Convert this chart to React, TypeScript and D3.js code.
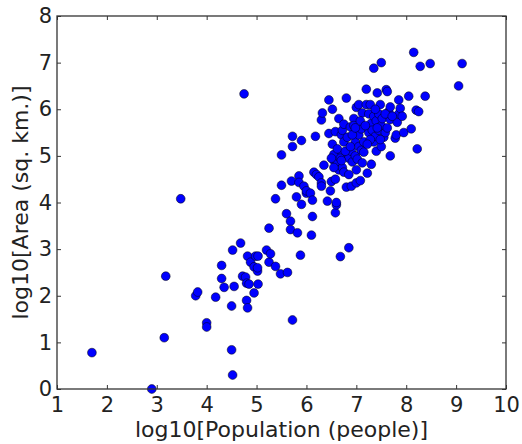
import React, { useEffect, useRef } from 'react';
import * as d3 from 'd3';

// log10 population (x) and log10 area (y)
const popLog = [
  1.7, 2.9, 3.15, 3.18, 3.48, 3.78, 3.82, 4.0, 4.0, 4.18, 4.3, 4.3, 4.35, 4.5, 4.5, 4.52, 4.52, 4.55,
  4.68, 4.72, 4.75, 4.78, 4.8, 4.8, 4.82, 4.82, 4.85, 4.88, 4.95, 4.95, 4.98, 5.02, 5.02, 5.03, 5.03,
  5.2, 5.25, 5.25, 5.28, 5.38, 5.38, 5.48, 5.5, 5.5, 5.6, 5.62, 5.68, 5.68, 5.7, 5.72, 5.72, 5.72,
  5.8, 5.82, 5.85, 5.85, 5.88, 5.9, 5.9, 5.95, 6.0, 6.0, 6.08, 6.12, 6.12, 6.1, 6.15, 6.18, 6.2, 6.25,
  6.3, 6.3, 6.3, 6.32, 6.35, 6.45, 6.45, 6.42, 6.48, 6.5, 6.52, 6.52, 6.55, 6.55, 6.58, 6.58, 6.58,
  6.6, 6.6, 6.62, 6.65, 6.65, 6.68, 6.7, 6.72, 6.72, 6.72, 6.75, 6.75, 6.75, 6.8, 6.8, 6.82, 6.85,
  6.85, 6.85, 6.88, 6.9, 6.9, 6.92, 6.95, 6.95, 6.98, 6.98, 7.0, 7.0, 7.0, 7.02, 7.05, 7.05, 7.05,
  7.08, 7.1, 7.1, 7.12, 7.15, 7.15, 7.2, 7.2, 7.22, 7.25, 7.25, 7.28, 7.3, 7.3, 7.32, 7.35, 7.35,
  7.35, 7.38, 7.4, 7.4, 7.42, 7.45, 7.45, 7.48, 7.5, 7.5, 7.5, 7.52, 7.55, 7.58, 7.6, 7.62, 7.65,
  7.68, 7.68, 7.68, 7.78, 7.8, 7.82, 7.85, 7.85, 7.88, 7.92, 7.95, 8.05, 8.1, 8.15, 8.2, 8.22, 8.25,
  8.28, 8.38, 8.48, 9.05, 9.12,
  6.55, 6.62, 6.68, 6.78, 6.92, 7.08, 7.18, 7.28, 7.38, 7.48, 7.58, 6.5, 6.7, 6.88, 7.12, 7.42,
  7.62, 7.72, 6.98, 7.22
];
const areaLog = [
  0.78, 0.0, 1.1, 2.42, 4.08, 2.0, 2.08, 1.42, 1.33, 1.97, 2.65, 2.37, 2.18, 1.78, 0.84, 0.3, 2.98, 2.2,
  3.13, 2.42, 6.33, 2.4, 2.27, 1.9, 2.85, 1.74, 2.25, 2.72, 2.62, 2.06, 2.85, 2.53, 2.6, 2.85, 2.25,
  2.98, 2.72, 3.45, 2.9, 2.63, 4.08, 2.47, 5.02, 4.37, 3.76, 2.5, 3.6, 3.42, 4.46, 5.42, 5.2, 1.48,
  4.12, 3.35, 4.57, 4.43, 2.87, 5.33, 3.96, 4.35, 4.2, 4.25, 4.2, 4.05, 3.7, 3.3, 4.65, 5.42, 4.6, 4.55,
  4.42, 4.35, 5.77, 5.92, 4.8, 6.2, 5.48, 4.03, 4.25, 4.45, 5.25, 6.0, 4.9, 5.03, 5.52, 4.5, 3.78,
  3.95, 4.0, 4.85, 4.7, 5.8, 2.84, 5.45, 5.55, 5.05, 4.75, 5.68, 5.3, 4.65, 4.33, 6.24, 5.4, 3.03,
  4.95, 4.6, 5.62, 4.35, 5.1, 4.87, 5.8, 5.65, 5.3, 5.0, 6.04, 4.42, 4.7, 4.93, 5.2, 6.1, 5.45,
  4.47, 5.58, 5.12, 5.92, 5.08, 5.3, 6.43, 6.1, 4.63, 5.9, 5.5, 6.1, 4.82, 5.7, 5.55, 6.88, 5.85,
  5.3, 5.42, 5.75, 5.1, 6.35, 5.9, 5.55, 6.1, 7.0, 5.2, 5.65, 5.8, 5.4, 5.5, 6.42, 6.38, 5.95,
  6.05, 5.78, 5.0, 5.38, 5.45, 5.72, 6.2, 5.9, 6.02, 5.85, 5.5, 6.28, 5.58, 7.22, 5.98, 5.15, 5.95,
  6.92, 6.28, 6.98, 6.5, 6.98,
  4.75, 5.15, 4.95, 5.1, 5.45, 5.75, 5.65, 5.35, 6.0, 5.35, 5.9, 4.95, 4.9, 5.2, 4.85, 5.6,
  5.6, 5.85, 5.6, 5.25
];
const xTicks = [1, 2, 3, 4, 5, 6, 7, 8, 9, 10];
const yTicks = [0, 1, 2, 3, 4, 5, 6, 7, 8];

const W = 522;
const H = 444;
const margin = { top: 16, right: 16, bottom: 55, left: 57 };

export default function App() {
  const ref = useRef<SVGSVGElement>(null);

  useEffect(() => {
    const svg = d3.select(ref.current);
    svg.selectAll('*').remove();

    const x = d3.scaleLinear().domain([1, 10]).range([margin.left, W - margin.right]);
    const y = d3.scaleLinear().domain([0, 8]).range([H - margin.bottom, margin.top]);
    const font = 'DejaVu Sans, sans-serif';

    svg.append('rect').attr('width', W).attr('height', H).attr('fill', 'white');

    // points
    const pts = popLog.map((p, i) => [p, areaLog[i]]);
    svg.append('g')
      .selectAll('circle')
      .data(pts)
      .enter()
      .append('circle')
      .attr('cx', d => x(d[0]))
      .attr('cy', d => y(d[1]))
      .attr('r', 4.4)
      .attr('fill', '#0000ff')
      .attr('stroke', '#000')
      .attr('stroke-width', 0.5);

    // axes, matplotlib style: ticks inward on all four sides
    const tick = 4;
    const bottom = svg.append('g').attr('transform', `translate(0,${y(0)})`)
      .call(d3.axisBottom(x).tickValues(xTicks).tickSizeInner(-tick).tickSizeOuter(0).tickPadding(8));
    const top = svg.append('g').attr('transform', `translate(0,${y(8)})`)
      .call(d3.axisTop(x).tickValues(xTicks).tickSizeInner(-tick).tickSizeOuter(0).tickFormat(() => ''));
    const left = svg.append('g').attr('transform', `translate(${x(1)},0)`)
      .call(d3.axisLeft(y).tickValues(yTicks).tickSizeInner(-tick).tickSizeOuter(0).tickPadding(5));
    const right = svg.append('g').attr('transform', `translate(${x(10)},0)`)
      .call(d3.axisRight(y).tickValues(yTicks).tickSizeInner(-tick).tickSizeOuter(0).tickFormat(() => ''));

    [bottom, top, left, right].forEach(g => {
      g.select('.domain').remove();
      g.selectAll('line').attr('stroke', '#333').attr('stroke-width', 1);
      g.selectAll('text').attr('font-family', font).attr('font-size', 21).attr('fill', '#222');
    });

    svg.append('rect')
      .attr('x', x(1)).attr('y', y(8))
      .attr('width', x(10) - x(1)).attr('height', y(0) - y(8))
      .attr('fill', 'none').attr('stroke', '#333').attr('stroke-width', 1.3);

    svg.append('text')
      .attr('x', (x(1) + x(10)) / 2).attr('y', 437)
      .attr('text-anchor', 'middle')
      .attr('font-family', font).attr('font-size', 22).attr('fill', '#222')
      .text('log10[Population (people)]');

    svg.append('text')
      .attr('transform', `translate(28,${(y(0) + y(8)) / 2}) rotate(-90)`)
      .attr('text-anchor', 'middle')
      .attr('font-family', font).attr('font-size', 22).attr('fill', '#222')
      .text('log10[Area (sq. km.)]');
  }, []);

  return (
    <svg ref={ref} width={W} height={H} style={{ position: 'absolute', left: 0, top: 0 }} />
  );
}
